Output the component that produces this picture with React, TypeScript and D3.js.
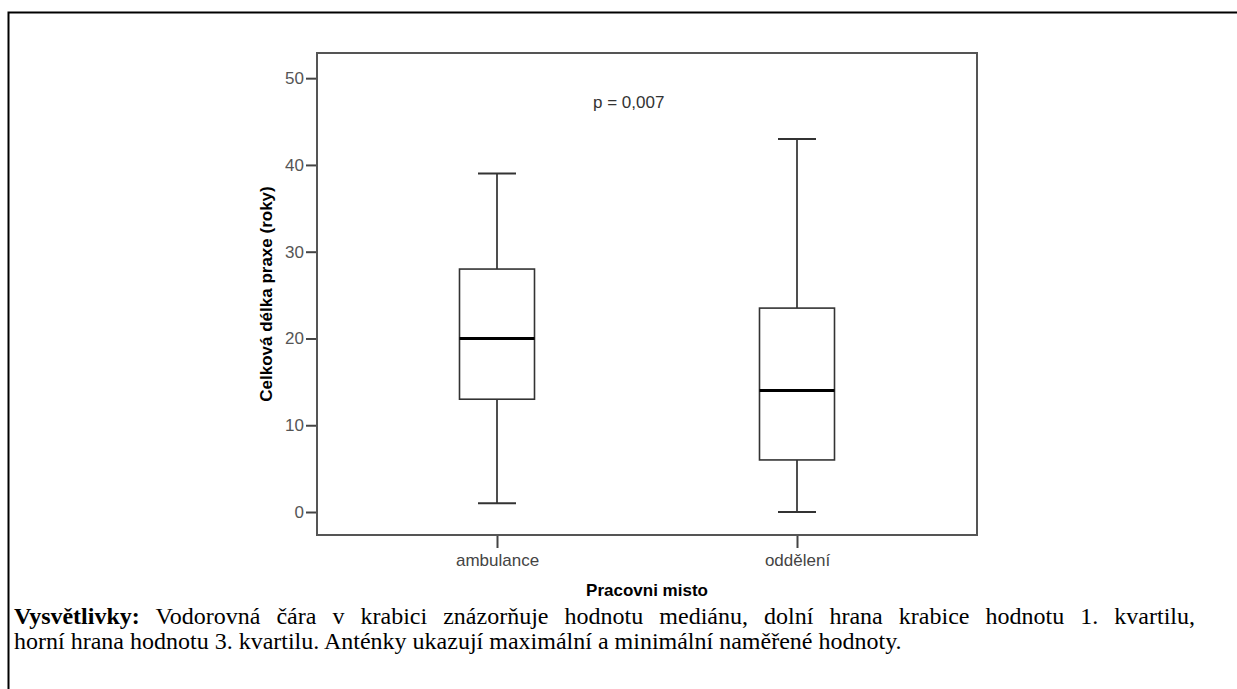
import React, { useEffect, useRef } from 'react';
import * as d3 from 'd3';

const categories = ['ambulance', 'oddělení'];
const minValues = [1, 0];
const q1Values = [13, 6];
const medianValues = [20, 14];
const q3Values = [28, 23.5];
const maxValues = [39, 43];
const yTicks = [0, 10, 20, 30, 40, 50];
const pLabel = 'p = 0,007';
const yTitle = 'Celková délka praxe (roky)';
const xTitle = 'Pracovni misto';
const captionBold = 'Vysvětlivky:';
const captionLine1 = ' Vodorovná čára v krabici znázorňuje hodnotu mediánu, dolní hrana krabice hodnotu 1. kvartilu,';
const captionLine2 = 'horní hrana hodnotu 3. kvartilu. Anténky ukazují maximální a minimální naměřené hodnoty.';

const W = 1237;
const H = 689;
const plot = { left: 317, right: 977, top: 53, bottom: 535 };
const captionLeft = 14;
const captionRight = 1195; // justified first line
const sans = '"Liberation Sans", Arial, sans-serif';
const serif = '"Liberation Serif", "Times New Roman", serif';

export default function App() {
  const yAxisRef = useRef<SVGGElement>(null);
  const xAxisRef = useRef<SVGGElement>(null);
  const line1Ref = useRef<SVGTextElement>(null);

  const y = d3.scaleLinear().domain([-2.65, 52.9]).range([plot.bottom, plot.top]);
  const x = d3.scalePoint<string>().domain(categories).range([plot.left, plot.right]).padding(0.6);
  const boxHalf = 37.5;
  const capHalf = 19;

  useEffect(() => {
    const ya = d3.select(yAxisRef.current!);
    ya.call(d3.axisLeft(y).tickValues(yTicks).tickSize(10).tickPadding(2).tickFormat(d3.format('d')));
    ya.select('.domain').remove();
    ya.selectAll('line').attr('stroke', '#444').attr('stroke-width', 2);
    ya.selectAll('text').attr('fill', '#555').attr('font-size', 17).attr('font-family', sans);

    const xa = d3.select(xAxisRef.current!);
    xa.call(d3.axisBottom(x).tickSize(12).tickPadding(6));
    xa.select('.domain').remove();
    xa.selectAll('line').attr('stroke', '#444').attr('stroke-width', 2);
    xa.selectAll('text').attr('fill', '#444').attr('font-size', 17).attr('font-family', sans);

    // justify the first caption line by widening word spacing
    const t = line1Ref.current!;
    const natural = t.getComputedTextLength();
    const spaces = (captionBold + captionLine1).split(' ').length - 1;
    const extra = (captionRight - captionLeft - natural) / spaces;
    if (extra > 0) t.setAttribute('word-spacing', String(extra));
  }, []);

  return (
    <svg width={W} height={H} style={{ position: 'absolute', left: 0, top: 0, background: '#fff' }}>
      {/* outer cell border */}
      <path d={`M8.5,${H} V12.5 H${W}`} fill="none" stroke="#000" strokeWidth={2} />

      {/* plot frame */}
      <rect
        x={plot.left}
        y={plot.top}
        width={plot.right - plot.left}
        height={plot.bottom - plot.top}
        fill="#fff"
        stroke="#555"
        strokeWidth={2}
      />
      <g ref={yAxisRef} transform={`translate(${plot.left - 1},0)`} />
      <g ref={xAxisRef} transform={`translate(0,${plot.bottom + 1})`} />

      {categories.map((c, i) => {
        const cx = x(c)!;
        return (
          <g key={c}>
            <line x1={cx} x2={cx} y1={y(maxValues[i])} y2={y(q3Values[i])} stroke="#222" strokeWidth={1.6} />
            <line x1={cx} x2={cx} y1={y(q1Values[i])} y2={y(minValues[i])} stroke="#222" strokeWidth={1.6} />
            <line x1={cx - capHalf} x2={cx + capHalf} y1={y(maxValues[i])} y2={y(maxValues[i])} stroke="#333" strokeWidth={2} />
            <line x1={cx - capHalf} x2={cx + capHalf} y1={y(minValues[i])} y2={y(minValues[i])} stroke="#333" strokeWidth={2} />
            <rect
              x={cx - boxHalf}
              y={y(q3Values[i])}
              width={boxHalf * 2}
              height={y(q1Values[i]) - y(q3Values[i])}
              fill="#fff"
              stroke="#333"
              strokeWidth={1.6}
            />
            <line x1={cx - boxHalf} x2={cx + boxHalf} y1={y(medianValues[i])} y2={y(medianValues[i])} stroke="#000" strokeWidth={3} />
          </g>
        );
      })}

      <text x={593} y={108} fontSize={17} fontFamily={sans} fill="#333">{pLabel}</text>

      <text
        transform={`translate(272,${(plot.top + plot.bottom) / 2}) rotate(-90)`}
        textAnchor="middle"
        fontSize={17}
        fontWeight="bold"
        fontFamily={sans}
        fill="#000"
      >
        {yTitle}
      </text>
      <text
        x={(plot.left + plot.right) / 2}
        y={596}
        textAnchor="middle"
        fontSize={17}
        fontWeight="bold"
        fontFamily={sans}
        fill="#000"
      >
        {xTitle}
      </text>

      <text ref={line1Ref} x={captionLeft} y={624} fontSize={24} fontFamily={serif} fill="#000">
        <tspan fontWeight="bold">{captionBold}</tspan>
        <tspan>{captionLine1}</tspan>
      </text>
      <text x={captionLeft} y={649} fontSize={24} fontFamily={serif} fill="#000">{captionLine2}</text>
    </svg>
  );
}
